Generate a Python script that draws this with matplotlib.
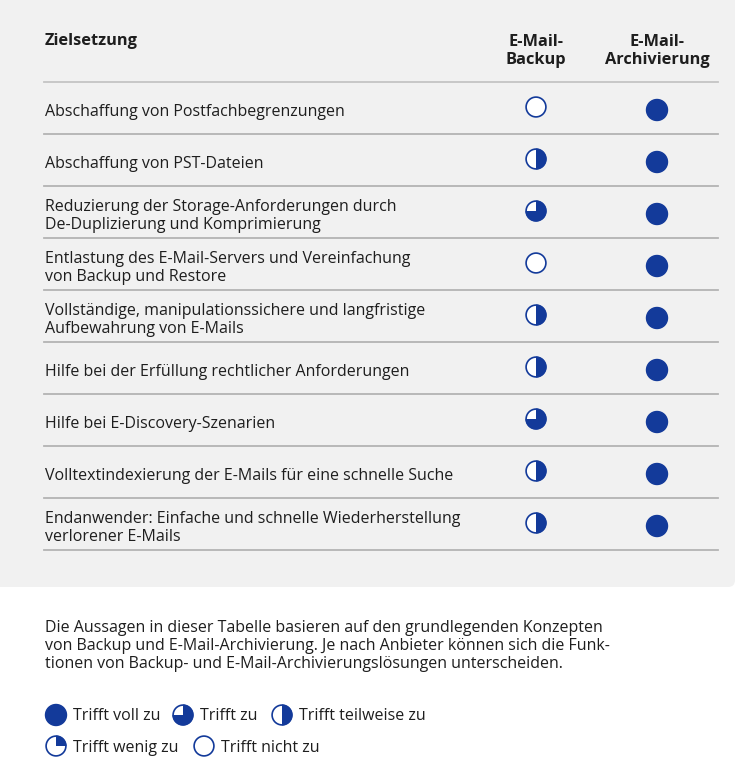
import matplotlib.pyplot as plt
from matplotlib.patches import Wedge, Circle, FancyBboxPatch

# Tabelle: Zielsetzung und Erfüllungsgrad (0..4 Viertel)
goals = [
    "Abschaffung von Postfachbegrenzungen",
    "Abschaffung von PST-Dateien",
    "Reduzierung der Storage-Anforderungen durch\nDe-Duplizierung und Komprimierung",
    "Entlastung des E-Mail-Servers und Vereinfachung\nvon Backup und Restore",
    "Vollständige, manipulationssichere und langfristige\nAufbewahrung von E-Mails",
    "Hilfe bei der Erfüllung rechtlicher Anforderungen",
    "Hilfe bei E-Discovery-Szenarien",
    "Volltextindexierung der E-Mails für eine schnelle Suche",
    "Endanwender: Einfache und schnelle Wiederherstellung\nverlorener E-Mails",
]
backup = [0, 2, 3, 0, 2, 2, 3, 2, 2]
archiv = [4, 4, 4, 4, 4, 4, 4, 4, 4]
columns = ["E-Mail-\nBackup", "E-Mail-\nArchivierung"]

legend_labels = ["Trifft voll zu", "Trifft zu", "Trifft teilweise zu",
                 "Trifft wenig zu", "Trifft nicht zu"]
legend_levels = [4, 3, 2, 1, 0]

note = ("Die Aussagen in dieser Tabelle basieren auf den grundlegenden Konzepten\n"
        "von Backup und E-Mail-Archivierung. Je nach Anbieter können sich die Funk-\n"
        "tionen von Backup- und E-Mail-Archivierungslösungen unterscheiden.")

blue = "#133a9a"
txt = "#1e1e1e"
line_c = "#b4b4b4"
plt.rcParams['font.family'] = ['Open Sans', 'DejaVu Sans']

fig = plt.figure(figsize=(7.37, 7.68), dpi=100)
ax = fig.add_axes([0, 0, 1, 1])
ax.set_xlim(0, 737)
ax.set_ylim(768, 0)
ax.axis('off')

# grauer Hintergrund
ax.add_patch(FancyBboxPatch((-30, -30), 765, 617, boxstyle="round,pad=0,rounding_size=7",
                            fc="#f1f1f1", ec="none"))


def harvey(x, y, level, r=10.5):
    # Kreis, im Uhrzeigersinn ab 12 Uhr gefüllt
    if level >= 4:
        ax.add_patch(Circle((x, y), r, fc=blue, ec=blue, lw=1.0))
        return
    ax.add_patch(Circle((x, y), r - 0.6, fc="white", ec="none"))
    if level > 0:
        ax.add_patch(Wedge((x, y), r, -90, -90 + 90 * level, fc=blue, ec="none"))
    ax.add_patch(Circle((x, y), r - 0.6, fc="none", ec=blue, lw=1.2))


col_x = [536, 657]
top = 82
row_h = 52
x0, x1 = 44, 718
fs = 11.5

ax.text(45, 41, "Zielsetzung", fontsize=11.8, fontweight='bold', color=txt, va='center')
for cx, c in zip(col_x, columns):
    ax.text(cx, 51, c, fontsize=11.8, fontweight='bold', color=txt, ha='center', va='center',
            linespacing=1.22)

ax.plot([x0, x1], [top, top], color="#c4c4c4", lw=1.3)
for i, g in enumerate(goals):
    yc = top + row_h * i + 27
    ax.text(45, yc + 3, g, fontsize=fs, color=txt, va='center', linespacing=1.2)
    harvey(col_x[0], yc - 2, backup[i])
    harvey(col_x[1], yc + 1, archiv[i])
    yl = top + row_h * (i + 1)
    ax.plot([x0, x1], [yl, yl], color=line_c, lw=1.3)

ax.text(45, 646, note, fontsize=fs, color=txt, va='center', linespacing=1.2)

leg_pos = [(56, 715), (183, 715), (282, 715), (56, 746), (204, 746)]
for (lx, ly), lab, lev in zip(leg_pos, legend_labels, legend_levels):
    harvey(lx, ly, lev)
    ax.text(lx + 17, ly + 1.5, lab, fontsize=fs, color=txt, va='center')

fig.savefig("out.png", dpi=100)
